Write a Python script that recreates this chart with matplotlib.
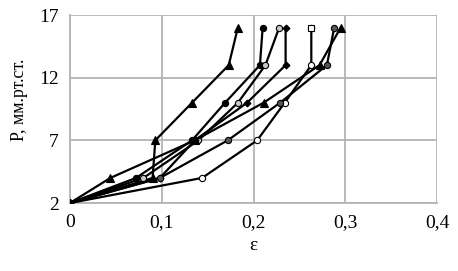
import matplotlib.pyplot as plt
import numpy as np

P = [2, 4, 7, 10, 13, 16]

# strain values per series
EPS = {
    "s1": [0, 0.090, 0.093, 0.133, 0.173, 0.183],
    "s2": [0, 0.072, 0.133, 0.169, 0.207, 0.210],
    "s3": [0, 0.080, 0.140, 0.183, 0.213, 0.228],
    "s4": [0, 0.098, 0.136, 0.193, 0.235, 0.235],
    "s5": [0, 0.144, 0.204, 0.234, 0.263, 0.263],
    "s6": [0, 0.098, 0.172, 0.229, 0.280, 0.288],
    "s7": [0, 0.044, 0.136, 0.211, 0.272, 0.295],
}

X_TICKS = [0, 0.1, 0.2, 0.3, 0.4]
X_LABELS = ["0", "0,1", "0,2", "0,3", "0,4"]
Y_TICKS = [2, 7, 12, 17]

STYLES = {
    "s1": dict(marker="^", mfc="black", ms=5.5),
    "s2": dict(marker="o", mfc="black", ms=4.5),
    "s3": dict(marker="o", mfc="#c8c8c8", ms=4.5),
    "s4": dict(marker="D", mfc="black", ms=3.5),
    "s5": dict(marker="o", mfc="white", ms=4.5),
    "s6": dict(marker="o", mfc="#555555", ms=4.5),
    "s7": dict(marker="^", mfc="black", ms=5.5),
}


def main():
    plt.rcParams["font.family"] = ["Liberation Serif", "DejaVu Serif"]
    fig = plt.figure(figsize=(4.58, 2.71), dpi=100)
    ax = fig.add_axes([70 / 458, 1 - 203 / 271, 367 / 458, 188 / 271])

    for key, eps in EPS.items():
        st = STYLES[key]
        ax.plot(eps, P, color="black", lw=1.6, marker=st["marker"],
                ms=st["ms"], mfc=st["mfc"], mec="black", mew=0.8, zorder=3)
    # top point of the white series is a square
    ax.plot(EPS["s5"][-1], P[-1], marker="s", ms=4.5, mfc="white",
            mec="black", mew=0.8, zorder=4)

    ax.set_xlim(0, 0.4)
    ax.set_ylim(2, 17)
    ax.set_xticks(X_TICKS)
    ax.set_xticklabels(X_LABELS)
    ax.set_yticks(Y_TICKS)
    ax.tick_params(length=0, labelsize=14, pad=8)
    ax.grid(True, color="#b4b4b4", lw=1.3)
    for side in ["top", "right"]:
        ax.spines[side].set_visible(False)
    for side in ["left", "bottom"]:
        ax.spines[side].set_color("#b4b4b4")
        ax.spines[side].set_linewidth(1.3)
    ax.set_xlabel("ε", fontsize=14, labelpad=4)
    ax.set_ylabel("P, мм.рт.ст.", fontsize=13)
    ax.yaxis.set_label_coords(-0.115, 0.55)

    fig.savefig("out.png", dpi=100)
    plt.close(fig)


if __name__ == "__main__":
    main()
